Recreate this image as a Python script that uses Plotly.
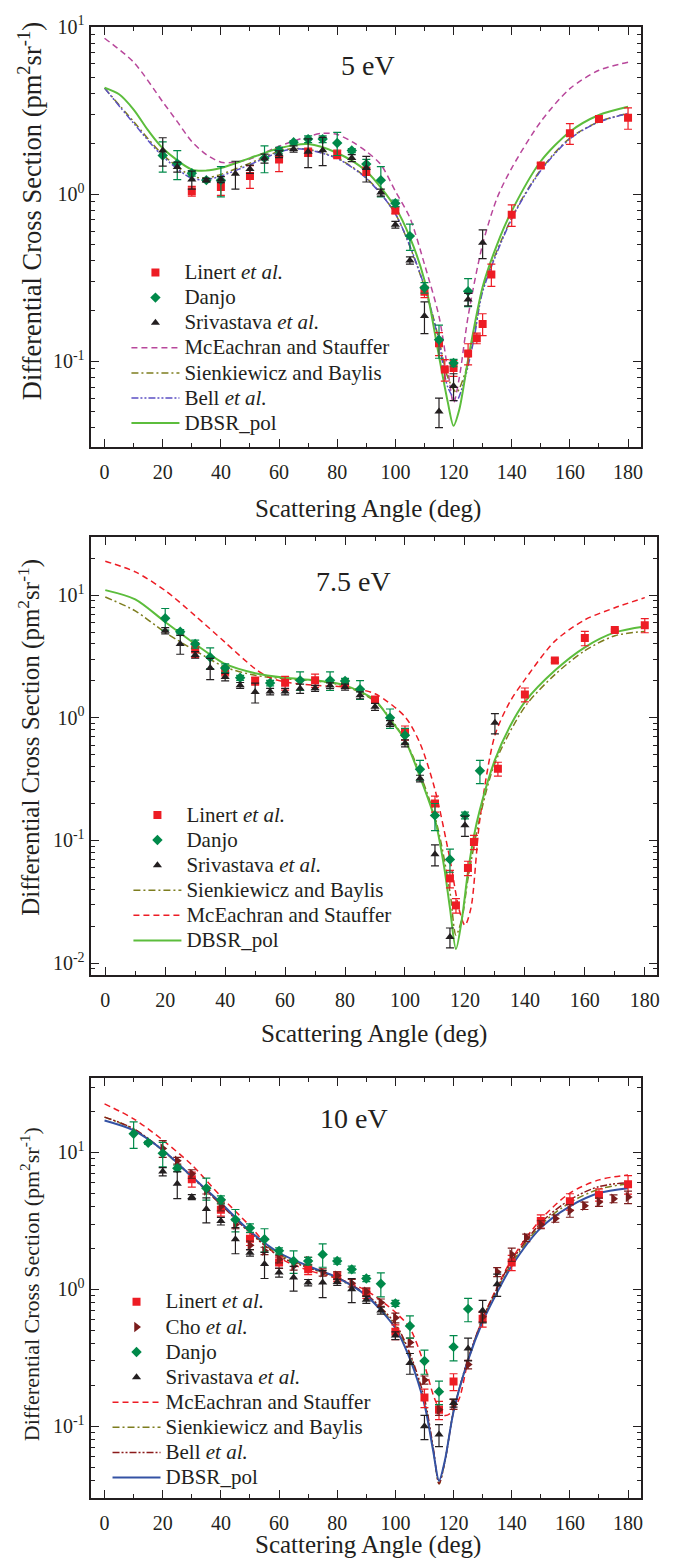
import plotly.graph_objects as go

FONT = "Liberation Serif, Times New Roman, serif"
INK = "#231f20"
RED = "#ed1c24"
GREEN_PT = "#00894a"
BLACK = "#231f20"
CHO = "#7a1c1c"
MAGENTA = "#b8479b"
OLIVE = "#7d7d1e"
BELL1 = "#5b4fc4"
BELL3 = "#8b1a1a"
DBSR_G = "#5cbd3c"
DBSR_B = "#3452a4"

# ================= Panel 1 : 5 eV =================
p1_lin_ang = [30, 40, 50, 60, 70, 80, 90, 100, 110, 115, 117, 120, 125, 128, 130, 133, 140, 150, 160, 170, 180]
p1_lin_val = [1.04, 1.10, 1.28, 1.61, 1.78, 1.73, 1.37, 0.80, 0.26, 0.128, 0.089, 0.091, 0.111, 0.137, 0.167, 0.33, 0.75, 1.48, 2.31, 2.81, 2.86]
p1_lin_err = [0.07, 0.12, 0.2, 0.25, 0.1, 0.1, 0.08, 0.04, 0.02, 0.02, 0.013, 0.01, 0.016, 0.01, 0.025, 0.05, 0.11, 0.05, 0.33, 0.05, 0.42]

p1_dan_ang = [20, 25, 30, 35, 40, 55, 60, 65, 70, 75, 80, 85, 90, 95, 100, 105, 110, 115, 120, 125]
p1_dan_val = [1.70, 1.52, 1.33, 1.21, 1.21, 1.64, 1.82, 2.04, 2.13, 2.13, 2.02, 1.82, 1.51, 1.21, 0.88, 0.56, 0.275, 0.134, 0.0975, 0.262]
p1_dan_err = [0.35, 0.3, 0.05, 0.03, 0.25, 0.3, 0.08, 0.05, 0.1, 0.1, 0.32, 0.05, 0.1, 0.25, 0.04, 0.1, 0.02, 0.03, 0.005, 0.05]

p1_sri_ang = [20, 25, 30, 35, 40, 45, 50, 55, 60, 65, 70, 75, 85, 90, 95, 100, 105, 110, 115, 120, 125, 130]
p1_sri_val = [1.82, 1.45, 1.22, 1.21, 1.22, 1.32, 1.41, 1.63, 1.73, 1.86, 1.79, 1.83, 1.64, 1.43, 1.02, 0.655, 0.40, 0.186, 0.050, 0.071, 0.234, 0.51]
p1_sri_err = [0.35, 0.1, 0.15, 0.03, 0.05, 0.25, 0.08, 0.1, 0.08, 0.08, 0.35, 0.35, 0.08, 0.25, 0.05, 0.03, 0.02, 0.04, 0.01, 0.013, 0.02, 0.1]

p1_mce_ang = [0, 10, 20, 25, 30, 35, 40, 45, 50, 60, 70, 75, 80, 85, 90, 95, 100, 105, 110, 115, 118, 120, 122, 125, 130, 135, 140, 150, 160, 170, 180]
p1_mce_val = [8.55, 6.15, 3.56, 2.71, 2.06, 1.72, 1.55, 1.55, 1.62, 1.93, 2.21, 2.31, 2.27, 2.06, 1.80, 1.50, 1.04, 0.72, 0.38, 0.185, 0.089, 0.056, 0.08, 0.185, 0.50, 0.95, 1.43, 2.71, 4.27, 5.5, 6.15]

p1_th_ang = [0, 10, 20, 30, 35, 40, 50, 60, 65, 70, 80, 90, 100, 110, 115, 118, 121, 124, 127, 130, 140, 150, 160, 170, 180]
p1_sie_val = [4.3, 2.71, 1.72, 1.28, 1.25, 1.31, 1.53, 1.80, 1.87, 1.85, 1.64, 1.25, 0.76, 0.278, 0.134, 0.08, 0.065, 0.085, 0.14, 0.27, 0.72, 1.40, 2.16, 2.71, 3.04]
p1_bel_val = [4.3, 2.65, 1.68, 1.24, 1.22, 1.28, 1.50, 1.78, 1.86, 1.84, 1.63, 1.24, 0.76, 0.28, 0.13, 0.07, 0.058, 0.08, 0.135, 0.26, 0.71, 1.38, 2.14, 2.70, 3.03]

p1_dbsr_ang = [0, 5, 10, 15, 20, 30, 35, 40, 50, 60, 70, 80, 90, 100, 105, 110, 115, 118, 120, 122, 125, 130, 135, 140, 150, 160, 170, 180]
p1_dbsr_val = [4.32, 3.95, 3.2, 2.4, 1.88, 1.40, 1.38, 1.43, 1.64, 1.88, 1.99, 1.76, 1.37, 0.83, 0.55, 0.305, 0.107, 0.057, 0.041, 0.0515, 0.102, 0.278, 0.50, 0.79, 1.57, 2.36, 2.97, 3.33]

# ================= Panel 2 : 7.5 eV =================
p2_lin_ang = [30, 40, 50, 60, 70, 80, 90, 100, 110, 115, 117, 121, 123, 131, 140, 150, 160, 170, 180]
p2_lin_val = [3.6, 2.40, 2.0, 1.93, 2.02, 1.90, 1.41, 0.757, 0.20, 0.049, 0.0295, 0.0596, 0.097, 0.384, 1.55, 2.93, 4.47, 5.19, 5.69]
p2_lin_err = [0.5, 0.2, 0.15, 0.25, 0.25, 0.1, 0.08, 0.1, 0.03, 0.008, 0.004, 0.008, 0.013, 0.05, 0.2, 0.1, 0.6, 0.1, 0.75]

p2_dan_ang = [20, 25, 30, 35, 40, 45, 55, 65, 75, 80, 85, 95, 100, 105, 110, 115, 120, 125]
p2_dan_val = [6.49, 5.03, 4.0, 3.12, 2.55, 2.12, 1.92, 2.02, 2.02, 2.0, 1.71, 1.0, 0.72, 0.38, 0.16, 0.070, 0.16, 0.37]
p2_dan_err = [1.3, 0.2, 0.3, 0.6, 0.2, 0.1, 0.1, 0.35, 0.35, 0.1, 0.3, 0.18, 0.1, 0.07, 0.04, 0.015, 0.01, 0.08]

p2_sri_ang = [20, 25, 30, 35, 40, 45, 50, 55, 60, 65, 70, 75, 80, 85, 90, 95, 100, 105, 110, 115, 120, 130]
p2_sri_val = [5.13, 4.0, 3.26, 2.55, 2.15, 1.84, 1.62, 1.64, 1.64, 1.73, 1.74, 1.83, 1.78, 1.53, 1.23, 0.90, 0.62, 0.32, 0.077, 0.0163, 0.133, 0.91]
p2_sri_err = [0.3, 0.7, 0.2, 0.5, 0.15, 0.1, 0.3, 0.1, 0.1, 0.15, 0.1, 0.1, 0.1, 0.1, 0.08, 0.05, 0.04, 0.02, 0.015, 0.003, 0.025, 0.17]

p2_sie_ang = [0, 10, 20, 30, 40, 50, 60, 70, 80, 90, 100, 110, 115, 117, 119, 121, 125, 130, 140, 150, 160, 170, 180]
p2_sie_val = [9.66, 7.45, 4.97, 3.53, 2.59, 2.22, 2.08, 2.0, 1.81, 1.36, 0.66, 0.155, 0.038, 0.0169, 0.023, 0.0485, 0.155, 0.427, 1.23, 2.25, 3.53, 4.67, 5.06]

p2_mce_ang = [0, 10, 20, 30, 40, 50, 55, 60, 70, 80, 90, 100, 105, 110, 115, 118, 120, 122, 125, 130, 135, 140, 150, 160, 170, 180]
p2_mce_val = [18.9, 15.5, 10.9, 6.8, 4.12, 2.51, 2.12, 1.96, 1.84, 1.78, 1.57, 1.02, 0.62, 0.26, 0.070, 0.0277, 0.0203, 0.028, 0.15, 0.72, 1.35, 2.05, 4.22, 6.3, 7.9, 9.55]

p2_dbsr_ang = [0, 10, 20, 30, 40, 50, 60, 70, 80, 90, 95, 100, 105, 110, 113, 115, 117, 119, 121, 123, 125, 130, 135, 140, 150, 160, 170, 180]
p2_dbsr_val = [11.0, 9.25, 6.05, 4.0, 2.75, 2.31, 2.12, 2.02, 1.84, 1.39, 0.97, 0.66, 0.33, 0.148, 0.062, 0.028, 0.013, 0.023, 0.055, 0.109, 0.179, 0.454, 0.85, 1.35, 2.43, 3.76, 4.97, 5.56]

# ================= Panel 3 : 10 eV =================
p3_lin_ang = [30, 40, 50, 60, 70, 80, 90, 100, 110, 115, 120, 130, 140, 150, 160, 170, 180]
p3_lin_val = [6.37, 3.82, 2.34, 1.57, 1.40, 1.24, 0.94, 0.49, 0.162, 0.132, 0.212, 0.61, 1.57, 3.15, 4.39, 4.91, 5.86]
p3_lin_err = [0.8, 0.4, 0.25, 0.15, 0.12, 0.1, 0.08, 0.06, 0.025, 0.02, 0.03, 0.08, 0.2, 0.35, 0.6, 0.5, 0.9]

p3_cho_ang = [20, 25, 30, 35, 40, 45, 50, 55, 60, 65, 70, 75, 80, 85, 90, 95, 100, 105, 110, 115, 120, 125, 130, 135, 140, 145, 150, 155, 160, 165, 170, 175, 180]
p3_cho_val = [10.7, 8.7, 6.97, 5.27, 4.04, 2.97, 2.10, 1.91, 1.66, 1.48, 1.61, 1.33, 1.26, 1.11, 0.96, 0.80, 0.62, 0.41, 0.218, 0.132, 0.145, 0.283, 0.63, 1.34, 1.80, 2.38, 2.97, 3.29, 3.76, 4.08, 4.34, 4.59, 4.72]
p3_cho_err = [1.5, 0.5, 0.5, 0.3, 0.3, 0.2, 0.15, 0.12, 0.1, 0.1, 0.1, 0.08, 0.08, 0.07, 0.06, 0.05, 0.05, 0.03, 0.015, 0.012, 0.012, 0.02, 0.05, 0.1, 0.2, 0.15, 0.2, 0.2, 0.4, 0.25, 0.3, 0.3, 0.5]

p3_dan_ang = [10, 15, 20, 25, 35, 40, 45, 50, 55, 60, 65, 70, 75, 80, 85, 90, 95, 100, 105, 110, 115, 120, 125]
p3_dan_val = [13.7, 11.75, 9.84, 7.66, 5.48, 4.51, 3.23, 2.81, 2.32, 1.91, 1.61, 1.61, 1.80, 1.61, 1.40, 1.20, 1.10, 0.79, 0.54, 0.30, 0.179, 0.38, 0.72]
p3_dan_err = [3.0, 0.3, 2.0, 0.4, 1.0, 0.3, 0.6, 0.2, 0.45, 0.1, 0.3, 0.1, 0.35, 0.08, 0.08, 0.06, 0.22, 0.04, 0.1, 0.06, 0.035, 0.08, 0.14]

p3_sri_ang = [20, 25, 30, 35, 40, 45, 50, 55, 60, 65, 70, 75, 80, 85, 90, 95, 100, 105, 110, 115, 120, 125, 130, 135]
p3_sri_val = [7.24, 5.9, 4.72, 3.86, 3.15, 2.32, 1.85, 1.53, 1.33, 1.22, 1.12, 1.12, 1.13, 1.0, 0.84, 0.70, 0.46, 0.29, 0.10, 0.087, 0.148, 0.37, 0.70, 1.09]
p3_sri_err = [0.5, 1.3, 0.2, 0.8, 0.2, 0.5, 0.1, 0.33, 0.1, 0.25, 0.06, 0.25, 0.06, 0.2, 0.05, 0.04, 0.03, 0.05, 0.02, 0.016, 0.01, 0.07, 0.13, 0.2]

p3_mce_ang = [0, 10, 20, 30, 40, 50, 60, 70, 80, 90, 100, 105, 110, 113, 115, 117, 119, 122, 125, 130, 140, 150, 160, 170, 180]
p3_mce_val = [22.6, 17.6, 12.3, 8.1, 4.77, 2.9, 1.71, 1.38, 1.2, 0.98, 0.68, 0.52, 0.28, 0.17, 0.135, 0.12, 0.125, 0.16, 0.30, 0.61, 1.66, 3.24, 5.05, 6.3, 6.85]

p3_th_ang = [0, 10, 20, 30, 40, 50, 60, 70, 80, 90, 100, 105, 110, 113, 115, 117, 120, 125, 130, 135, 140, 150, 160, 170, 180]
p3_sie_val = [18.1, 14.8, 10.3, 6.6, 4.2, 2.62, 1.8, 1.45, 1.2, 0.9, 0.54, 0.33, 0.15, 0.068, 0.038, 0.055, 0.13, 0.31, 0.6, 1.0, 1.55, 2.95, 4.3, 5.4, 5.9]
p3_bel_val = [18.1, 14.9, 10.4, 6.66, 4.15, 2.59, 1.75, 1.44, 1.22, 0.92, 0.56, 0.34, 0.16, 0.07, 0.038, 0.055, 0.128, 0.31, 0.61, 1.02, 1.61, 3.06, 4.51, 5.63, 6.02]
p3_dbsr_val = [17.1, 14.5, 10.4, 6.66, 4.27, 2.66, 1.85, 1.48, 1.22, 0.90, 0.52, 0.31, 0.144, 0.066, 0.040, 0.056, 0.128, 0.304, 0.58, 0.95, 1.48, 2.81, 4.04, 5.05, 5.48]

# tick labels
x_tickvals = [0, 20, 40, 60, 80, 100, 120, 140, 160, 180]
y_tickvals_13 = [0.1, 1, 10]
y_ticktext_13 = ["10<sup>-1</sup>", "10<sup>0</sup>", "10<sup>1</sup>"]
y_tickvals_2 = [0.01, 0.1, 1, 10]
y_ticktext_2 = ["10<sup>-2</sup>", "10<sup>-1</sup>", "10<sup>0</sup>", "10<sup>1</sup>"]

W, H = 674, 1558
fig = go.Figure()

LEGFS = 17
TXT = '<span style="font-size:21px">{}</span>'


def add_exp(ang, val, err, name, symbol, color, size, xa, ya, leg, rank):
    fig.add_trace(go.Scatter(
        x=ang, y=val, mode="markers", name=TXT.format(name),
        marker=dict(symbol=symbol, color=color, size=size, line=dict(width=0)),
        error_y=dict(type="data", array=err, visible=True, color=color, thickness=1.2, width=4),
        xaxis=xa, yaxis=ya, legend=leg, legendrank=rank))


def add_th(ang, val, name, color, dash, width, xa, ya, leg, rank):
    fig.add_trace(go.Scatter(
        x=ang, y=val, mode="lines", name=TXT.format(name),
        line=dict(color=color, dash=dash, width=width, shape="spline", smoothing=0.8),
        xaxis=xa, yaxis=ya, legend=leg, legendrank=rank))


DASH = "6px,4px"
DASHDOT = "7px,3px,2px,3px"
DASHDOTDOT = "7px,2px,2px,2px,2px,2px"
ETAL = "{} <i>et al.</i>"

# panel 1
add_th(p1_mce_ang, p1_mce_val, "McEachran and Stauffer", MAGENTA, DASH, 1.5, "x", "y", "legend", 4)
add_th(p1_th_ang, p1_sie_val, "Sienkiewicz and Baylis", OLIVE, DASHDOT, 1.5, "x", "y", "legend", 5)
add_th(p1_th_ang, p1_bel_val, ETAL.format("Bell"), BELL1, DASHDOTDOT, 1.5, "x", "y", "legend", 6)
add_th(p1_dbsr_ang, p1_dbsr_val, "DBSR_pol", DBSR_G, "solid", 2, "x", "y", "legend", 7)
add_exp(p1_lin_ang, p1_lin_val, p1_lin_err, ETAL.format("Linert"), "square", RED, 8, "x", "y", "legend", 1)
add_exp(p1_dan_ang, p1_dan_val, p1_dan_err, "Danjo", "diamond", GREEN_PT, 8, "x", "y", "legend", 2)
add_exp(p1_sri_ang, p1_sri_val, p1_sri_err, ETAL.format("Srivastava"), "triangle-up", BLACK, 8, "x", "y", "legend", 3)

# panel 2
add_th(p2_sie_ang, p2_sie_val, "Sienkiewicz and Baylis", OLIVE, DASHDOT, 1.5, "x2", "y2", "legend2", 4)
add_th(p2_mce_ang, p2_mce_val, "McEachran and Stauffer", RED, DASH, 1.5, "x2", "y2", "legend2", 5)
add_th(p2_dbsr_ang, p2_dbsr_val, "DBSR_pol", DBSR_G, "solid", 2, "x2", "y2", "legend2", 6)
add_exp(p2_lin_ang, p2_lin_val, p2_lin_err, ETAL.format("Linert"), "square", RED, 8, "x2", "y2", "legend2", 1)
add_exp(p2_dan_ang, p2_dan_val, p2_dan_err, "Danjo", "diamond", GREEN_PT, 8, "x2", "y2", "legend2", 2)
add_exp(p2_sri_ang, p2_sri_val, p2_sri_err, ETAL.format("Srivastava"), "triangle-up", BLACK, 8, "x2", "y2", "legend2", 3)

# panel 3
add_th(p3_mce_ang, p3_mce_val, "McEachran and Stauffer", RED, DASH, 1.5, "x3", "y3", "legend3", 5)
add_th(p3_th_ang, p3_sie_val, "Sienkiewicz and Baylis", OLIVE, DASHDOT, 1.5, "x3", "y3", "legend3", 6)
add_th(p3_th_ang, p3_bel_val, ETAL.format("Bell"), BELL3, DASHDOTDOT, 1.5, "x3", "y3", "legend3", 7)
add_th(p3_th_ang, p3_dbsr_val, "DBSR_pol", DBSR_B, "solid", 2, "x3", "y3", "legend3", 8)
add_exp(p3_lin_ang, p3_lin_val, p3_lin_err, ETAL.format("Linert"), "square", RED, 8, "x3", "y3", "legend3", 1)
add_exp(p3_cho_ang, p3_cho_val, p3_cho_err, ETAL.format("Cho"), "triangle-right", CHO, 9, "x3", "y3", "legend3", 2)
add_exp(p3_dan_ang, p3_dan_val, p3_dan_err, "Danjo", "diamond", GREEN_PT, 8, "x3", "y3", "legend3", 3)
add_exp(p3_sri_ang, p3_sri_val, p3_sri_err, ETAL.format("Srivastava"), "triangle-up", BLACK, 8, "x3", "y3", "legend3", 4)


def px_x(a, b):
    return [a / W, b / W]


def px_y(top, bottom):
    return [1 - bottom / H, 1 - top / H]


tickfont = dict(family=FONT, size=20, color=INK)


def xax(domain, rng, anchor):
    return dict(domain=domain, range=rng, anchor=anchor, showline=True, linecolor=INK, linewidth=2,
                mirror="allticks", ticks="inside", ticklen=8, tickwidth=1.3, tickcolor=INK,
                tickmode="array", tickvals=x_tickvals, ticklabelstandoff=6,
                minor=dict(ticks="inside", ticklen=4, dtick=10, tick0=0, tickcolor=INK, tickwidth=1.2, showgrid=False),
                showgrid=False, zeroline=False, tickfont=tickfont)


def yax(domain, rng, anchor, tv, tt):
    return dict(type="log", domain=domain, range=rng, anchor=anchor, showline=True, linecolor=INK, linewidth=2,
                mirror="allticks", ticks="inside", ticklen=8, tickwidth=1.3, tickcolor=INK,
                tickmode="array", tickvals=tv, ticktext=tt,
                minor=dict(ticks="inside", ticklen=4, dtick="D1", tickcolor=INK, tickwidth=1.2, showgrid=False),
                showgrid=False, zeroline=False, tickfont=tickfont)


legfont = dict(family=FONT, size=LEGFS, color=INK)


def leg(x_px, top_px):
    return dict(x=x_px / W, y=1 - top_px / H, xanchor="left", yanchor="top", bgcolor="rgba(0,0,0,0)",
                borderwidth=0, font=legfont, itemwidth=48, tracegroupgap=0, traceorder="normal")


annotations = []
for txt, cx, cy in [("5 eV", 370, 53), ("7.5 eV", 355, 573), ("10 eV", 356, 1115)]:
    annotations.append(dict(text=txt, x=cx / W, y=1 - cy / H, xref="paper", yref="paper", showarrow=False,
                            font=dict(family=FONT, size=28, color=INK), xanchor="center", yanchor="middle"))
for cx, cy in [(370, 500), (376, 1030), (370, 1545)]:
    annotations.append(dict(text="Scattering Angle (deg)", x=cx / W, y=1 - cy / H, xref="paper", yref="paper",
                            showarrow=False, font=dict(family=FONT, size=25, color=INK),
                            xanchor="center", yanchor="middle"))
for cy, fs in [(200, 26.5), (730, 25), (1282, 22)]:
    annotations.append(dict(text="Differential Cross Section (pm<sup>2</sup>sr<sup>-1</sup>)", x=30 / W,
                            y=1 - cy / H, xref="paper", yref="paper", showarrow=False, textangle=-90,
                            font=dict(family=FONT, size=fs, color=INK), xanchor="center", yanchor="middle"))

fig.update_layout(
    width=W, height=H, margin=dict(l=0, r=0, t=0, b=0),
    paper_bgcolor="white", plot_bgcolor="white",
    font=dict(family=FONT, color=INK),
    xaxis=xax(px_x(91, 644), [-4.8, 184.5], "y"),
    yaxis=yax(px_y(14, 438), [-1.516, 1.0], "x", y_tickvals_13, y_ticktext_13),
    xaxis2=xax(px_x(91, 660), [-4.9, 184.1], "y2"),
    yaxis2=yax(px_y(528, 970), [-2.097, 1.478], "x2", y_tickvals_2, y_ticktext_2),
    xaxis3=xax(px_x(91, 644), [-4.8, 184.5], "y3"),
    yaxis3=yax(px_y(1074, 1497), [-1.52, 1.543], "x3", y_tickvals_13, y_ticktext_13),
    legend=leg(127, 244),
    legend2=leg(129, 791),
    legend3=leg(108, 1282),
    annotations=annotations,
    showlegend=True,
)

fig.write_html("out.html", config={"displayModeBar": False},
               post_script="document.body.style.margin='0';document.body.style.overflow='hidden';")
